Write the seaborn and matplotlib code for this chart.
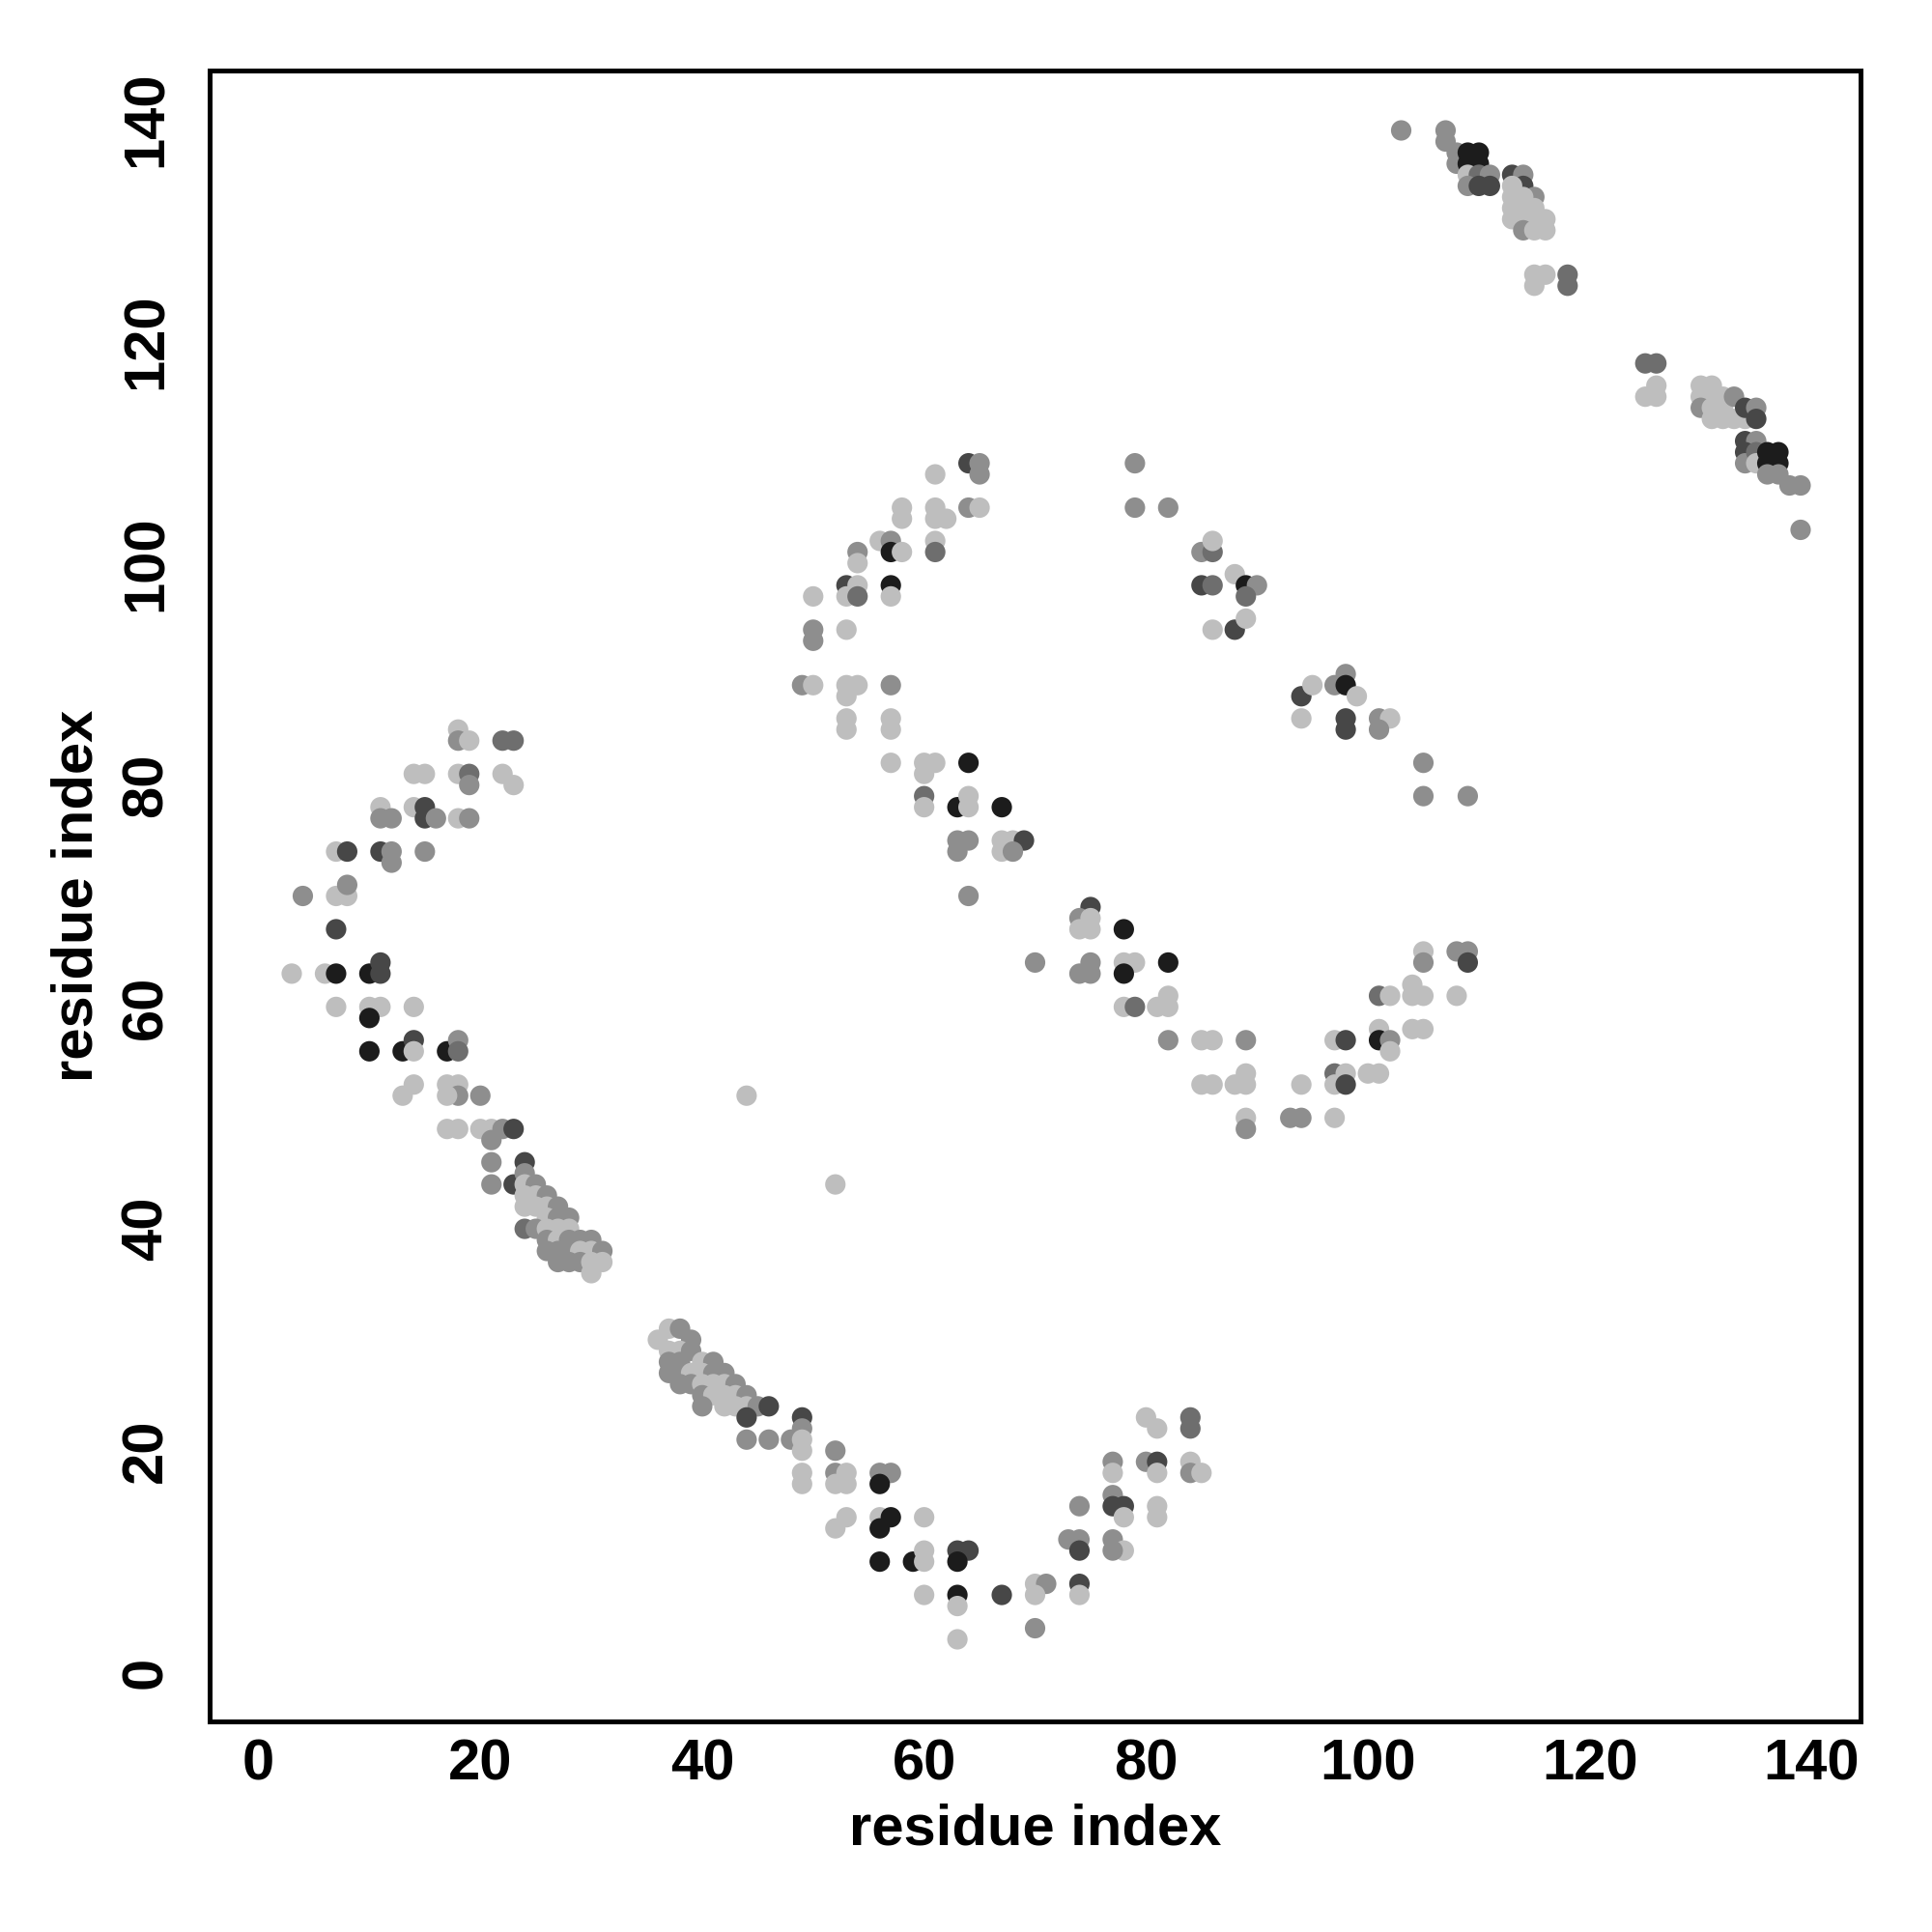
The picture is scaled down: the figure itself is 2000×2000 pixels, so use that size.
import matplotlib
matplotlib.use("Agg")
import matplotlib.pyplot as plt
import seaborn as sns
import pandas as pd

# (residue i, residue j, shade level 1=light ... 5=black)
contacts = [
    # left arc
    (3,63,1),(4,70,2),(6,63,1),(7,74,1),(8,74,4),(7,70,1),(8,70,1),(8,71,2),(7,67,4),(7,63,5),(7,60,1),
    (10,63,5),(11,64,4),(11,63,4),(10,60,1),(11,60,1),(10,59,5),(14,60,1),(10,56,5),(13,56,5),(14,57,4),
    (14,56,1),(17,56,5),(18,57,2),(18,56,3),
    (14,53,1),(13,52,1),(17,53,1),(18,53,1),(18,52,2),(17,52,1),(20,52,2),
    (11,78,1),(11,77,2),(12,77,2),(14,78,1),(15,78,4),(15,77,4),(16,77,2),(18,77,1),(19,77,2),
    (11,74,4),(12,74,2),(12,73,2),(15,74,2),
    (14,81,1),(15,81,1),(18,81,1),(19,81,3),(19,80,2),(22,81,1),(23,80,1),
    (18,85,1),(18,84,2),(19,84,1),(22,84,3),(23,84,3),
    (17,49,1),(18,49,1),(20,49,1),(21,49,1),(22,49,2),(23,49,4),(21,48,2),(21,46,2),(24,46,4),
    (21,44,2),(23,44,4),(24,45,2),
    (24,44,1),(25,44,2),(24,43,1),(24,42,1),(25,43,1),(26,43,2),(25,42,1),(26,42,1),(27,42,2),
    (26,41,1),(27,41,2),(28,41,2),(24,40,3),(25,40,2),(26,40,1),(27,40,1),(28,40,1),(26,39,2),
    (27,39,1),(28,39,2),(29,39,2),(30,39,2),(26,38,2),(27,38,2),(28,38,2),(29,38,1),(30,38,1),
    (31,38,2),(27,37,2),(28,37,2),(29,37,2),(30,37,1),(31,37,1),(30,36,1),
    # bottom arc
    (36,30,1),(37,31,1),(38,31,2),(39,30,2),(37,29,1),(38,29,1),(39,29,2),(37,28,2),(38,28,2),
    (40,28,1),(41,28,2),(37,27,2),(38,27,2),(39,27,1),(40,27,1),(41,27,2),(42,27,2),(38,26,2),
    (39,26,2),(40,26,1),(41,26,1),(42,26,1),(43,26,2),(40,25,2),(41,25,1),(42,25,1),(43,25,1),
    (44,25,2),(40,24,2),(42,24,1),(43,24,1),(44,24,1),(45,24,2),(46,24,4),(44,23,4),(44,21,2),
    (46,21,2),(48,21,2),(49,23,4),(49,22,2),(49,21,1),(49,20,1),(49,18,1),(49,17,1),(52,20,2),
    (52,18,2),(53,18,1),(52,17,1),(53,17,1),(56,18,2),(57,18,2),(56,17,5),(53,14,1),(52,13,1),
    (56,14,1),(57,14,5),(56,13,5),(60,14,1),(56,10,5),(59,10,5),(60,11,1),(60,10,1),(60,7,1),
    (63,11,4),(64,11,4),(63,10,5),(63,7,5),(63,6,1),(63,3,1),(67,7,4),(70,8,1),(71,8,2),(70,7,1),
    (70,4,2),(73,12,2),(74,12,2),(74,11,4),(74,15,2),(74,8,4),(74,7,1),(77,19,2),(77,18,1),
    (77,16,2),(77,15,4),(78,15,4),(78,14,1),(77,12,2),(78,11,1),(77,11,2),(80,23,1),(81,22,1),
    (80,19,2),(81,19,4),(81,18,1),(81,15,1),(81,14,1),(84,23,3),(84,22,3),(84,19,1),(84,18,2),
    (85,18,1),
    # middle arc
    (61,108,1),(64,109,4),(65,109,2),(65,108,2),(58,105,1),(58,104,1),(61,105,1),(61,104,1),
    (62,104,1),(64,105,2),(65,105,1),(56,102,1),(57,102,2),(57,101,5),(58,101,1),(61,102,1),
    (61,101,3),(54,101,2),(54,100,1),(53,98,4),(54,98,1),(53,97,1),(54,97,3),(57,98,5),(57,97,1),
    (50,97,1),(50,94,2),(50,93,2),(53,94,1),(49,89,2),(50,89,1),(53,89,1),(54,89,1),(53,88,1),
    (57,89,2),(53,86,1),(53,85,1),(57,86,1),(57,85,1),(57,82,1),(60,82,1),(61,82,1),(60,81,1),
    (64,82,5),(60,79,3),(60,78,1),(63,78,5),(64,79,1),(64,78,1),(67,78,5),(63,75,2),(64,75,2),
    (63,74,2),(67,75,1),(68,75,1),(69,75,4),(67,74,1),(68,74,2),(64,70,2),
    (70,64,2),(75,69,4),(74,68,2),(75,68,1),(74,67,1),(75,67,1),(78,67,5),(75,64,2),(74,63,2),
    (75,63,2),(78,64,1),(79,64,1),(78,63,5),(82,64,5),(78,60,1),(79,60,3),(81,60,1),(82,60,1),
    (82,61,1),(82,57,2),(85,57,1),(86,57,1),(89,57,2),(85,53,1),(86,53,1),(88,53,1),(89,53,1),
    (89,54,1),(89,50,1),(89,49,2),
    (93,50,2),(94,50,2),(97,50,1),(94,53,1),(97,54,3),(98,54,1),(97,53,1),(98,53,4),(100,54,1),
    (101,54,1),(97,57,1),(98,57,4),(101,58,1),(101,57,5),(102,57,2),(102,56,1),(101,61,3),
    (102,61,1),(104,62,1),(104,61,1),(105,61,1),(108,61,1),(104,58,1),(105,58,1),(105,65,1),
    (105,64,2),(108,65,2),(109,65,2),(109,64,4),
    (52,44,1),(44,52,1),
    # upper middle
    (79,109,2),(79,105,2),(82,105,2),(85,101,2),(86,101,3),(86,102,1),(85,98,4),(86,98,3),
    (88,99,1),(89,98,5),(90,98,2),(89,97,3),(86,94,1),(88,94,4),(89,95,1),
    (94,88,4),(95,89,1),(94,86,1),(97,89,2),(98,90,2),(98,89,5),(99,88,1),(98,86,4),(98,85,4),
    (101,86,2),(102,86,1),(101,85,2),(105,82,2),(105,79,2),(109,79,2),
    # top right
    (103,139,2),(107,139,2),(107,138,2),(108,137,2),(108,136,2),(109,137,5),(110,137,5),
    (109,136,5),(110,136,5),(109,135,1),(110,135,3),(111,135,2),(109,134,2),(110,134,4),
    (111,134,4),(113,135,4),(114,135,2),(114,134,4),(113,134,1),(115,133,2),(113,133,1),
    (114,133,1),(113,132,1),(114,132,1),(115,132,1),(113,131,1),(114,131,1),(115,131,1),
    (116,131,1),(114,130,2),(115,130,1),(116,130,1),(115,126,1),(116,126,1),(115,125,1),
    (118,126,3),(118,125,3),
    (125,118,3),(126,118,3),(125,115,1),(126,115,1),(126,116,1),(130,116,1),(131,116,1),
    (130,115,1),(131,115,1),(132,115,1),(130,114,2),(131,114,1),(132,114,1),(133,115,2),
    (131,113,1),(132,113,1),(133,113,1),(134,113,1),(134,114,4),(135,114,2),(135,113,4),
    (134,111,4),(135,111,2),(134,110,4),(134,109,2),(135,110,3),(135,109,1),(136,110,5),
    (137,110,5),(136,109,5),(137,109,5),(136,108,2),(137,108,2),(138,107,2),(139,107,2),
    (139,103,2),
]

res_i = [c[0] for c in contacts]
res_j = [c[1] for c in contacts]
shade = [c[2] for c in contacts]

shade_colors = {1: "#bebebe", 2: "#8e8e8e", 3: "#6e6e6e", 4: "#474747", 5: "#1c1c1c"}

ticks = [0, 20, 40, 60, 80, 100, 120, 140]

df = pd.DataFrame({"i": res_i, "j": res_j, "shade": shade})

sns.set_style("white")
plt.rcParams["font.family"] = ["Liberation Sans", "DejaVu Sans"]
plt.rcParams["font.weight"] = "bold"
plt.rcParams["text.color"] = "black"
plt.rcParams["axes.labelcolor"] = "black"
plt.rcParams["xtick.color"] = "black"
plt.rcParams["ytick.color"] = "black"

fig = plt.figure(figsize=(10, 10), dpi=200)
ax = fig.add_axes([0.1085, 0.109, 0.8545, 0.8545])

sns.scatterplot(data=df, x="i", y="j", hue="shade", palette=shade_colors,
                s=58, linewidth=0, legend=False, ax=ax)

ax.set_xlim(-4.4, 144.4)
ax.set_ylim(-4.4, 144.4)
ax.set_xticks(ticks)
ax.set_yticks(ticks)
ax.set_xticklabels([str(t) for t in ticks], fontsize=21.5, fontweight="bold", color="black")
ax.set_yticklabels([str(t) for t in ticks], fontsize=21.5, fontweight="bold", color="black",
                   rotation=90, va="center")
ax.tick_params(axis="both", direction="out", length=4.2, width=1.6, color="black")
ax.tick_params(axis="x", pad=2)
ax.tick_params(axis="y", pad=9.3)
ax.set_xlabel("residue index", fontsize=21.5, fontweight="bold", labelpad=4.3, color="black")
ax.set_ylabel("residue index", fontsize=21.5, fontweight="bold", labelpad=6.2, color="black")
for sp in ax.spines.values():
    sp.set_color("black")
    sp.set_linewidth(1.8)
    sp.set_visible(True)

fig.savefig("out.png", dpi=200, facecolor="white")
